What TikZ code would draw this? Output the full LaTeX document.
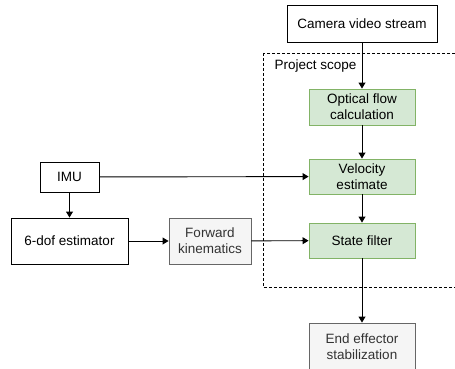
\documentclass[tikz,border=0pt]{standalone}
\usepackage{fontspec}
\setmainfont{Liberation Sans}
\usetikzlibrary{arrows.meta}
\definecolor{greenfill}{HTML}{D5E8D4}
\definecolor{greenline}{HTML}{82B366}
\definecolor{grayfill}{HTML}{F5F5F5}
\definecolor{grayline}{HTML}{666666}
\definecolor{graytext}{HTML}{333333}
\tikzset{
  box/.style={draw=black, fill=white, line width=0.9pt, align=center, inner sep=0pt,
    font=\fontsize{13.5}{16}\selectfont},
  greenbox/.style={box, draw=greenline, fill=greenfill},
  graybox/.style={box, draw=grayline, fill=grayfill, text=graytext},
  flow/.style={-{Triangle[length=6pt,width=7pt]}, line width=0.9pt}
}
\begin{document}
\begin{tikzpicture}[x=1pt, y=-1pt]
  \useasboundingbox (0,0) rectangle (455,369);
  \clip (0,0) rectangle (455,369);
  % project scope frame
  \draw[dashed, line width=0.8pt, dash pattern=on 3pt off 2pt] (263,53) rectangle (470,287);
  \node[anchor=west, font=\fontsize{13.5}{16}\selectfont] (scope) at (271,66) {Project scope};
  % nodes
  \node[box, minimum width=150pt, minimum height=37pt] (cam) at (362,23.5) {Camera video stream};
  \node[greenbox, minimum width=106pt, minimum height=36pt] (of) at (362,107) {Optical flow\\calculation};
  \node[greenbox, minimum width=106pt, minimum height=35pt] (vel) at (362,176.5) {Velocity\\estimate};
  \node[greenbox, minimum width=106pt, minimum height=35pt] (sf) at (362,240.5) {State filter};
  \node[graybox, minimum width=106pt, minimum height=48pt] (ee) at (362,347) {End effector\\stabilization};
  \node[box, minimum width=59pt, minimum height=30pt] (imu) at (69.5,177) {IMU};
  \node[box, minimum width=117pt, minimum height=46pt] (dof) at (69.5,241) {6-dof estimator};
  \node[graybox, minimum width=82pt, minimum height=46pt] (fk) at (210,241) {Forward\\kinematics};
  % connectors
  \draw[flow] (cam) -- (of);
  \draw[flow] (of) -- (vel);
  \draw[flow] (vel) -- (sf);
  \draw[flow] (sf) -- (ee);
  \draw[flow] (imu) -- (vel);
  \draw[flow] (imu) -- (dof);
  \draw[flow] (dof) -- (fk);
  \draw[flow] (fk) -- (sf);
\end{tikzpicture}
\end{document}
